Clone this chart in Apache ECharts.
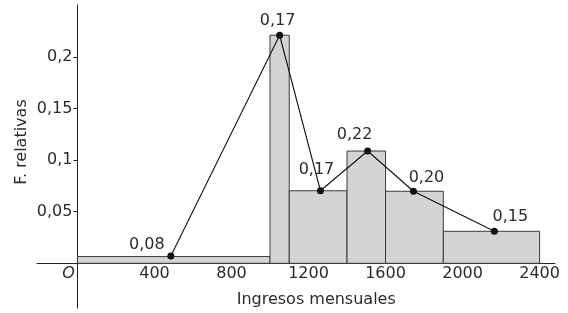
<!DOCTYPE html>
<html><head><meta charset="utf-8">
<script src="https://cdn.jsdelivr.net/npm/echarts@6/dist/echarts.min.js"></script>
<style>html,body{margin:0;padding:0;background:#fff}#c{width:568px;height:313px}</style>
</head><body><div id="c"></div>
<script>
// Histogram classes (lower, upper) and heights
var classStart = [0, 1000, 1100, 1400, 1600, 1900];
var classEnd = [1000, 1100, 1400, 1600, 1900, 2400];
var barHeights = [0.0065, 0.221, 0.0703, 0.1088, 0.0698, 0.031];
// Polygon points
var pointX = [485, 1050, 1262, 1507, 1745, 2165];
var pointY = [0.007, 0.221, 0.0703, 0.1088, 0.0698, 0.031];
var pointLabels = ['0,08', '0,17', '0,17', '0,22', '0,20', '0,15'];
// Axis ticks
var xTicks = [0, 400, 800, 1200, 1600, 2000, 2400];
var yTicks = [0.05, 0.1, 0.15, 0.2];

var FONT = 'DejaVu Sans';
var TXT = '#2b2b2b';
var AX = '#222';
var labelOffsets = [[-24, 5], [-2, 2], [-4, -4], [-13, 0], [13, 3], [16, 2]];

var barData = classStart.map(function (s, i) { return [s, classEnd[i], barHeights[i]]; });
var lineData = pointX.map(function (x, i) {
  return {
    value: [x, pointY[i]],
    label: { show: true, formatter: pointLabels[i], position: 'top', offset: labelOffsets[i] }
  };
});

var chart = echarts.init(document.getElementById('c'), null, { renderer: 'canvas' });
chart.setOption({
  animation: false,
  backgroundColor: '#fff',
  grid: [
    { left: 77.44, right: 13, top: 5, bottom: 49.7, containLabel: false, outerBoundsMode: 'none' },
    { left: 37, right: 13, top: 5, bottom: 5, containLabel: false, outerBoundsMode: 'none' }
  ],
  xAxis: [{
    gridIndex: 0, type: 'value', min: 0, max: 2480,
    name: 'Ingresos mensuales', nameLocation: 'middle', nameGap: 29,
    nameTextStyle: { fontFamily: FONT, fontSize: 16, color: TXT },
    axisLine: { show: false },
    axisTick: { show: true, inside: true, length: 4, customValues: xTicks.slice(1), lineStyle: { color: AX } },
    axisLabel: {
      customValues: xTicks, margin: 3, fontFamily: FONT, fontSize: 16, color: TXT,
      formatter: function (v) { return v === 0 ? '{o|O}' : String(v); },
      rich: { o: { fontFamily: FONT, fontSize: 16, fontStyle: 'italic', color: TXT, padding: [0, 18, 0, 0] } }
    },
    splitLine: { show: false }
  }, {
    gridIndex: 1, type: 'value', min: -210, max: 2480,
    axisLine: { show: true, onZero: true, lineStyle: { color: AX, width: 1 } },
    axisTick: { show: false }, axisLabel: { show: false }, splitLine: { show: false }
  }],
  yAxis: [{
    gridIndex: 0, type: 'value', min: 0, max: 0.2503,
    axisLine: { show: false },
    axisTick: { show: true, inside: false, length: 4, customValues: yTicks, lineStyle: { color: AX } },
    axisLabel: {
      customValues: yTicks, margin: 5, fontFamily: FONT, fontSize: 16, color: TXT,
      formatter: function (v) { return String(v).replace('.', ','); }
    },
    splitLine: { show: false }
  }, {
    gridIndex: 1, type: 'value', min: -0.0433, max: 0.2503,
    axisLine: { show: true, onZero: true, lineStyle: { color: AX, width: 1 } },
    axisTick: { show: false }, axisLabel: { show: false }, splitLine: { show: false }
  }],
  graphic: [{
    type: 'text', x: 22, y: 142, rotation: Math.PI / 2,
    style: { text: 'F. relativas', fontFamily: FONT, fontSize: 16, fill: TXT, textAlign: 'center', textVerticalAlign: 'middle' }
  }],
  series: [{
    type: 'custom',
    xAxisIndex: 0, yAxisIndex: 0,
    data: barData,
    encode: { x: [0, 1], y: 2 },
    renderItem: function (params, api) {
      var p0 = api.coord([api.value(0), api.value(2)]);
      var p1 = api.coord([api.value(1), 0]);
      return {
        type: 'rect',
        shape: { x: p0[0], y: p0[1], width: p1[0] - p0[0], height: p1[1] - p0[1] },
        style: { fill: '#d4d4d4', stroke: '#3a3a3a', lineWidth: 1 }
      };
    },
    z: 1
  }, {
    type: 'line',
    xAxisIndex: 0, yAxisIndex: 0,
    data: lineData,
    symbol: 'circle', symbolSize: 7,
    itemStyle: { color: '#111' },
    lineStyle: { color: '#111', width: 1.1 },
    label: { fontFamily: FONT, fontSize: 16, color: TXT },
    z: 3
  }]
});
</script>
</body></html>
